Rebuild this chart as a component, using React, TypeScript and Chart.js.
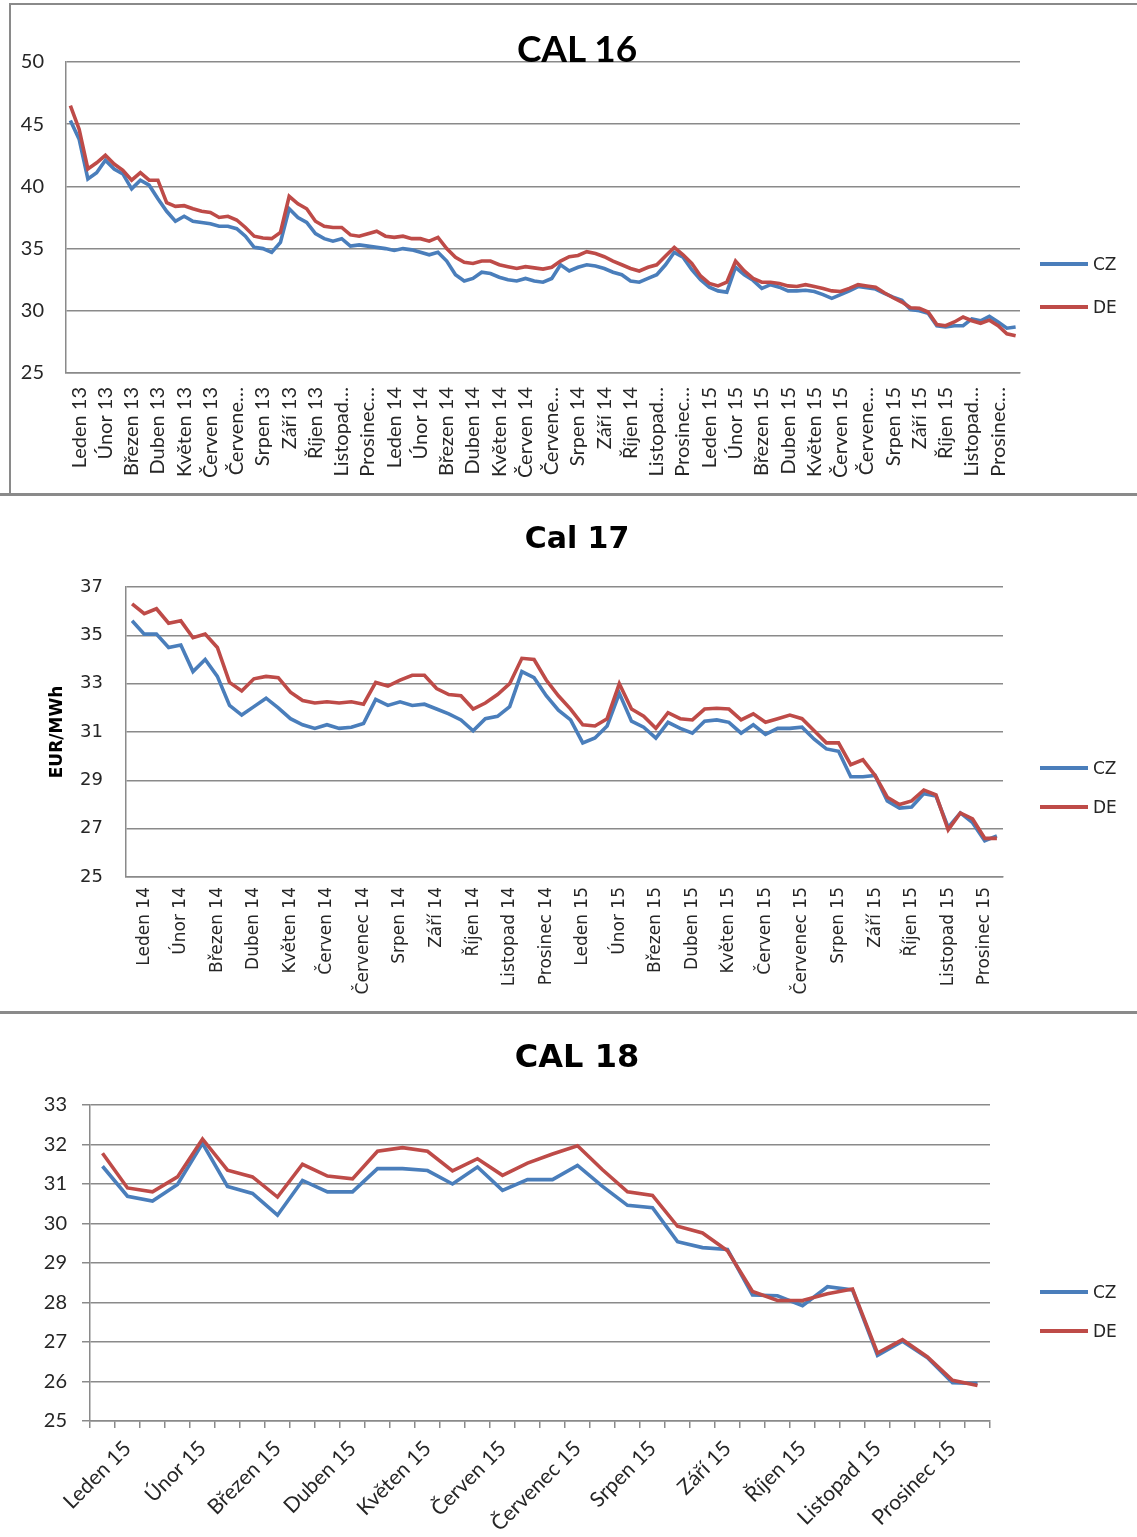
import React, { useEffect, useRef } from "react";
import { Chart, registerables } from "chart.js";

Chart.register(...registerables);

// ---------- DATA ----------
const cal16Months = [
  "Leden 13", "Únor 13", "Březen 13", "Duben 13", "Květen 13", "Červen 13", "Červene…", "Srpen 13", "Září 13", "Říjen 13", "Listopad…", "Prosinec…",
  "Leden 14", "Únor 14", "Březen 14", "Duben 14", "Květen 14", "Červen 14", "Červene…", "Srpen 14", "Září 14", "Říjen 14", "Listopad…", "Prosinec…",
  "Leden 15", "Únor 15", "Březen 15", "Duben 15", "Květen 15", "Červen 15", "Červene…", "Srpen 15", "Září 15", "Říjen 15", "Listopad…", "Prosinec…",
];
const cal16CZ = [
  45.3, 43.8, 40.6, 41.1, 42.1, 41.4, 41.0, 39.8, 40.5, 40.1, 39.0, 38.0, 37.2, 37.6, 37.2, 37.1, 37.0, 36.8, 36.8, 36.6,
  36.0, 35.1, 35.0, 34.7, 35.5, 38.2, 37.5, 37.1, 36.2, 35.8, 35.6, 35.8, 35.2, 35.3, 35.2, 35.1, 35.0, 34.85, 35.0, 34.9,
  34.7, 34.5, 34.7, 34.0, 32.9, 32.4, 32.6, 33.1, 33.0, 32.7, 32.5, 32.4, 32.6, 32.4, 32.3, 32.6, 33.7, 33.2, 33.5, 33.7,
  33.6, 33.4, 33.1, 32.9, 32.4, 32.3, 32.6, 32.9, 33.7, 34.7, 34.3, 33.3, 32.5, 31.9, 31.6, 31.5, 33.5, 32.9, 32.45, 31.8,
  32.1, 31.9, 31.6, 31.6, 31.65, 31.55, 31.3, 31.0, 31.3, 31.6, 31.95, 31.85, 31.75, 31.4, 31.1, 30.85, 30.1, 30.0, 29.8, 28.8,
  28.7, 28.8, 28.8, 29.35, 29.2, 29.55, 29.1, 28.6, 28.7,
];
const cal16DE = [
  46.5, 44.6, 41.4, 41.9, 42.5, 41.8, 41.3, 40.5, 41.1, 40.5, 40.5, 38.7, 38.4, 38.45, 38.2, 38.0, 37.9, 37.5, 37.6, 37.3,
  36.7, 36.0, 35.85, 35.8, 36.3, 39.2, 38.6, 38.2, 37.2, 36.8, 36.7, 36.7, 36.1, 36.0, 36.2, 36.4, 36.0, 35.9, 36.0, 35.8,
  35.8, 35.6, 35.9, 35.0, 34.3, 33.9, 33.8, 34.0, 34.0, 33.7, 33.55, 33.4, 33.55, 33.45, 33.35, 33.5, 34.0, 34.35, 34.45, 34.75,
  34.6, 34.35, 34.0, 33.7, 33.4, 33.2, 33.5, 33.7, 34.4, 35.1, 34.5, 33.8, 32.8, 32.2, 32.0, 32.3, 34.0, 33.2, 32.6, 32.3,
  32.3, 32.2, 32.0, 31.95, 32.1, 31.95, 31.8, 31.6, 31.55, 31.8, 32.1, 32.0, 31.9, 31.45, 31.05, 30.7, 30.25, 30.2, 29.9, 28.9,
  28.8, 29.1, 29.5, 29.2, 29.0, 29.25, 28.8, 28.15, 28.0,
];

const cal17Months = [
  "Leden 14", "Únor 14", "Březen 14", "Duben 14", "Květen 14", "Červen 14", "Červenec 14", "Srpen 14", "Září 14", "Říjen 14", "Listopad 14", "Prosinec 14",
  "Leden 15", "Únor 15", "Březen 15", "Duben 15", "Květen 15", "Červen 15", "Červenec 15", "Srpen 15", "Září 15", "Říjen 15", "Listopad 15", "Prosinec 15",
];
const cal17CZ = [
  35.6, 35.05, 35.05, 34.5, 34.6, 33.5, 34.0, 33.3, 32.1, 31.7, 32.05, 32.4, 32.0, 31.55, 31.3, 31.15, 31.3, 31.15, 31.2, 31.35,
  32.35, 32.1, 32.25, 32.1, 32.15, 31.95, 31.75, 31.5, 31.05, 31.55, 31.65, 32.05, 33.5, 33.25, 32.5, 31.9, 31.5, 30.55, 30.75, 31.25,
  32.6, 31.45, 31.2, 30.75, 31.4, 31.15, 30.95, 31.45, 31.5, 31.4, 30.95, 31.3, 30.9, 31.15, 31.15, 31.2, 30.7, 30.3, 30.2, 29.15,
  29.15, 29.2, 28.15, 27.85, 27.9, 28.45, 28.35, 27.05, 27.65, 27.25, 26.5, 26.7,
];
const cal17DE = [
  36.3, 35.9, 36.1, 35.5, 35.6, 34.9, 35.05, 34.5, 33.05, 32.7, 33.2, 33.3, 33.25, 32.65, 32.3, 32.2, 32.25, 32.2, 32.25, 32.15,
  33.05, 32.9, 33.15, 33.35, 33.35, 32.8, 32.55, 32.5, 31.95, 32.2, 32.55, 33.0, 34.05, 34.0, 33.15, 32.5, 31.95, 31.3, 31.25, 31.55,
  33.0, 31.95, 31.65, 31.15, 31.8, 31.55, 31.5, 31.95, 31.98, 31.95, 31.5, 31.75, 31.4, 31.55, 31.7, 31.55, 31.05, 30.55, 30.55, 29.65,
  29.85, 29.2, 28.3, 28.0, 28.15, 28.6, 28.4, 26.95, 27.65, 27.4, 26.6, 26.6,
];

const cal18Months = [
  "Leden 15", "Únor 15", "Březen 15", "Duben 15", "Květen 15", "Červen 15", "Červenec 15", "Srpen 15", "Září 15", "Říjen 15", "Listopad 15", "Prosinec 15",
];
const cal18CZ = [
  31.45, 30.69, 30.57, 30.99, 32.03, 30.94, 30.76, 30.21, 31.09, 30.8, 30.8, 31.39, 31.39, 31.34, 31.0, 31.43, 30.84, 31.11,
  31.11, 31.47, 30.94, 30.46, 30.4, 29.54, 29.39, 29.34, 28.19, 28.17, 27.92, 28.4, 28.32, 26.66, 27.02, 26.6, 25.97, 25.95,
];
const cal18DE = [
  31.78, 30.9, 30.8, 31.18, 32.14, 31.35, 31.18, 30.67, 31.5, 31.2, 31.13, 31.83, 31.92, 31.83, 31.33, 31.64, 31.22, 31.53,
  31.76, 31.97, 31.36, 30.8, 30.71, 29.93, 29.76, 29.31, 28.28, 28.05, 28.05, 28.22, 28.34, 26.72, 27.06, 26.62, 26.03, 25.9,
];

const seriesNames = ["CZ", "DE"];

// ---------- STYLE ----------
const BLUE = "#4a7ebb";
const RED = "#be4b48";
const GRID = "#8a8a8a";
const TXT = "#262626";
const CAL = "Lato, 'Open Sans', sans-serif";
const DJV = "'DejaVu Sans', Verdana, sans-serif";

function spreadLabels(months: string[], count: number, step: number, first: number): string[] {
  const out: string[] = [];
  for (let i = 0; i < count; i++) {
    const k = (i - first) / step;
    out.push(i >= first && Number.isInteger(k) && k < months.length ? months[k] : "");
  }
  return out;
}

type Spec = {
  labels: string[];
  cz: number[];
  de: number[];
  left: number;
  top: number;
  width: number;
  height: number;
  area: { left: number; top: number; right: number; bottom: number };
  padLeft: number;
  yMin: number;
  yMax: number;
  yStep: number;
  yFont: any;
  yPad: number;
  yTickMarks: boolean;
  xFont: any;
  xPad: number;
  rot: number;
  xTickMarks: boolean;
  yTitle?: { text: string; font: any; padTop: number };
};

function LineChart({ spec }: { spec: Spec }) {
  const ref = useRef<HTMLCanvasElement>(null);
  useEffect(() => {
    const s = spec;
    const chart = new Chart(ref.current!, {
      type: "line",
      data: {
        labels: s.labels,
        datasets: [
          { label: seriesNames[0], data: s.cz, borderColor: BLUE, backgroundColor: BLUE, borderWidth: 3.6, pointRadius: 0, tension: 0, order: 1 },
          { label: seriesNames[1], data: s.de, borderColor: RED, backgroundColor: RED, borderWidth: 3.6, pointRadius: 0, tension: 0, order: 0 },
        ],
      },
      options: {
        animation: false,
        responsive: false,
        maintainAspectRatio: false,
        devicePixelRatio: 1,
        layout: { padding: { left: s.padLeft, top: s.area.top, right: s.width - s.area.right, bottom: 0 } },
        plugins: { legend: { display: false }, tooltip: { enabled: false }, title: { display: false } },
        scales: {
          x: {
            type: "category",
            offset: true,
            grid: { display: s.xTickMarks, drawOnChartArea: false, offset: true, drawTicks: s.xTickMarks, tickLength: 7, color: GRID, lineWidth: 1.5 },
            border: { display: true, color: GRID, width: 1.5 },
            ticks: { autoSkip: false, maxRotation: s.rot, minRotation: s.rot, padding: s.xPad, font: s.xFont, color: TXT },
            afterFit: (a: any) => { a.height = s.height - s.area.bottom; },
          },
          y: {
            min: s.yMin,
            max: s.yMax,
            ticks: { stepSize: s.yStep, padding: s.yPad, font: s.yFont, color: TXT },
            grid: { color: GRID, lineWidth: 1.5, drawTicks: s.yTickMarks, tickLength: 8 },
            border: { display: true, color: GRID, width: 1.5 },
            title: s.yTitle
              ? { display: true, text: s.yTitle.text, font: s.yTitle.font, color: "#000", padding: { top: s.yTitle.padTop, bottom: 0 } }
              : { display: false },
            afterFit: (a: any) => { a.width = s.area.left - s.padLeft; },
          },
        },
      },
    } as any);
    return () => chart.destroy();
  }, [spec]);
  return (
    <canvas
      ref={ref}
      width={spec.width}
      height={spec.height}
      style={{ position: "absolute", left: spec.left, top: spec.top, width: spec.width, height: spec.height }}
    />
  );
}

function Legend({ x, yCZ, yDE, font }: { x: number; yCZ: number; yDE: number; font: string }) {
  const item = (name: string, color: string, y: number) => (
    <div key={name} style={{ position: "absolute", left: x, top: y - 12, height: 24, display: "flex", alignItems: "center" }}>
      <div style={{ width: 48, height: 4, background: color, marginRight: 5 }} />
      <span style={{ font, color: TXT }}>{name}</span>
    </div>
  );
  return (
    <>
      {item(seriesNames[0], BLUE, yCZ)}
      {item(seriesNames[1], RED, yDE)}
    </>
  );
}

function Title({ text, cx, cy, font }: { text: string; cx: number; cy: number; font: string }) {
  return (
    <div style={{ position: "absolute", left: cx - 200, top: cy - 25, width: 400, height: 50, lineHeight: "50px", textAlign: "center", font, color: "#000" }}>
      {text}
    </div>
  );
}

const spec16: Spec = {
  labels: spreadLabels(cal16Months, cal16CZ.length, 3, 1),
  cz: cal16CZ,
  de: cal16DE,
  left: 10, top: 4, width: 1127, height: 490,
  area: { left: 56, top: 58, right: 1010, bottom: 369 },
  padLeft: 0,
  yMin: 25, yMax: 50, yStep: 5,
  yFont: { family: CAL, size: 20 }, yPad: 22, yTickMarks: false,
  xFont: { family: CAL, size: 20 }, xPad: 14, rot: 90, xTickMarks: false,
};

const spec17: Spec = {
  labels: spreadLabels(cal17Months, cal17CZ.length, 3, 1),
  cz: cal17CZ,
  de: cal17DE,
  left: 0, top: 496, width: 1137, height: 516,
  area: { left: 126, top: 91, right: 1003, bottom: 381 },
  padLeft: 0,
  yMin: 25, yMax: 37, yStep: 2,
  yFont: { family: DJV, size: 18 }, yPad: 23, yTickMarks: false,
  xFont: { family: DJV, size: 17 }, xPad: 10, rot: 90, xTickMarks: false,
  yTitle: { text: "EUR/MWh", font: { family: DJV, size: 17, weight: "bold" }, padTop: 47 },
};

const spec18: Spec = {
  labels: spreadLabels(cal18Months, cal18CZ.length, 3, 1),
  cz: cal18CZ,
  de: cal18DE,
  left: 0, top: 1014, width: 1137, height: 523,
  area: { left: 90, top: 91, right: 990, bottom: 407 },
  padLeft: 0,
  yMin: 25, yMax: 33, yStep: 1,
  yFont: { family: CAL, size: 20 }, yPad: 15, yTickMarks: true,
  xFont: { family: CAL, size: 21 }, xPad: 8, rot: 45, xTickMarks: true,
};

export default function App() {
  return (
    <div style={{ position: "absolute", left: 0, top: 0, width: 1137, height: 1537, background: "#fff", overflow: "hidden" }}>
      {/* panel frames */}
      <div style={{ position: "absolute", left: 9, top: 3, width: 1128, height: 2, background: GRID }} />
      <div style={{ position: "absolute", left: 9, top: 3, width: 2, height: 492, background: GRID }} />
      <div style={{ position: "absolute", left: 0, top: 493, width: 1137, height: 3, background: GRID }} />
      <div style={{ position: "absolute", left: 0, top: 1011, width: 1137, height: 3, background: GRID }} />

      <LineChart spec={spec16} />
      <Title text="CAL 16" cx={577} cy={50} font={`bold 37px ${CAL}`} />
      <Legend x={1040} yCZ={264} yDE={307} font={`17px ${DJV}`} />

      <LineChart spec={spec17} />
      <Title text="Cal 17" cx={577} cy={545} font={`bold 30px ${DJV}`} />
      <Legend x={1040} yCZ={768} yDE={807} font={`17px ${DJV}`} />

      <LineChart spec={spec18} />
      <Title text="CAL 18" cx={577} cy={1062} font={`bold 32px ${DJV}`} />
      <Legend x={1040} yCZ={1292} yDE={1331} font={`17px ${DJV}`} />
    </div>
  );
}
